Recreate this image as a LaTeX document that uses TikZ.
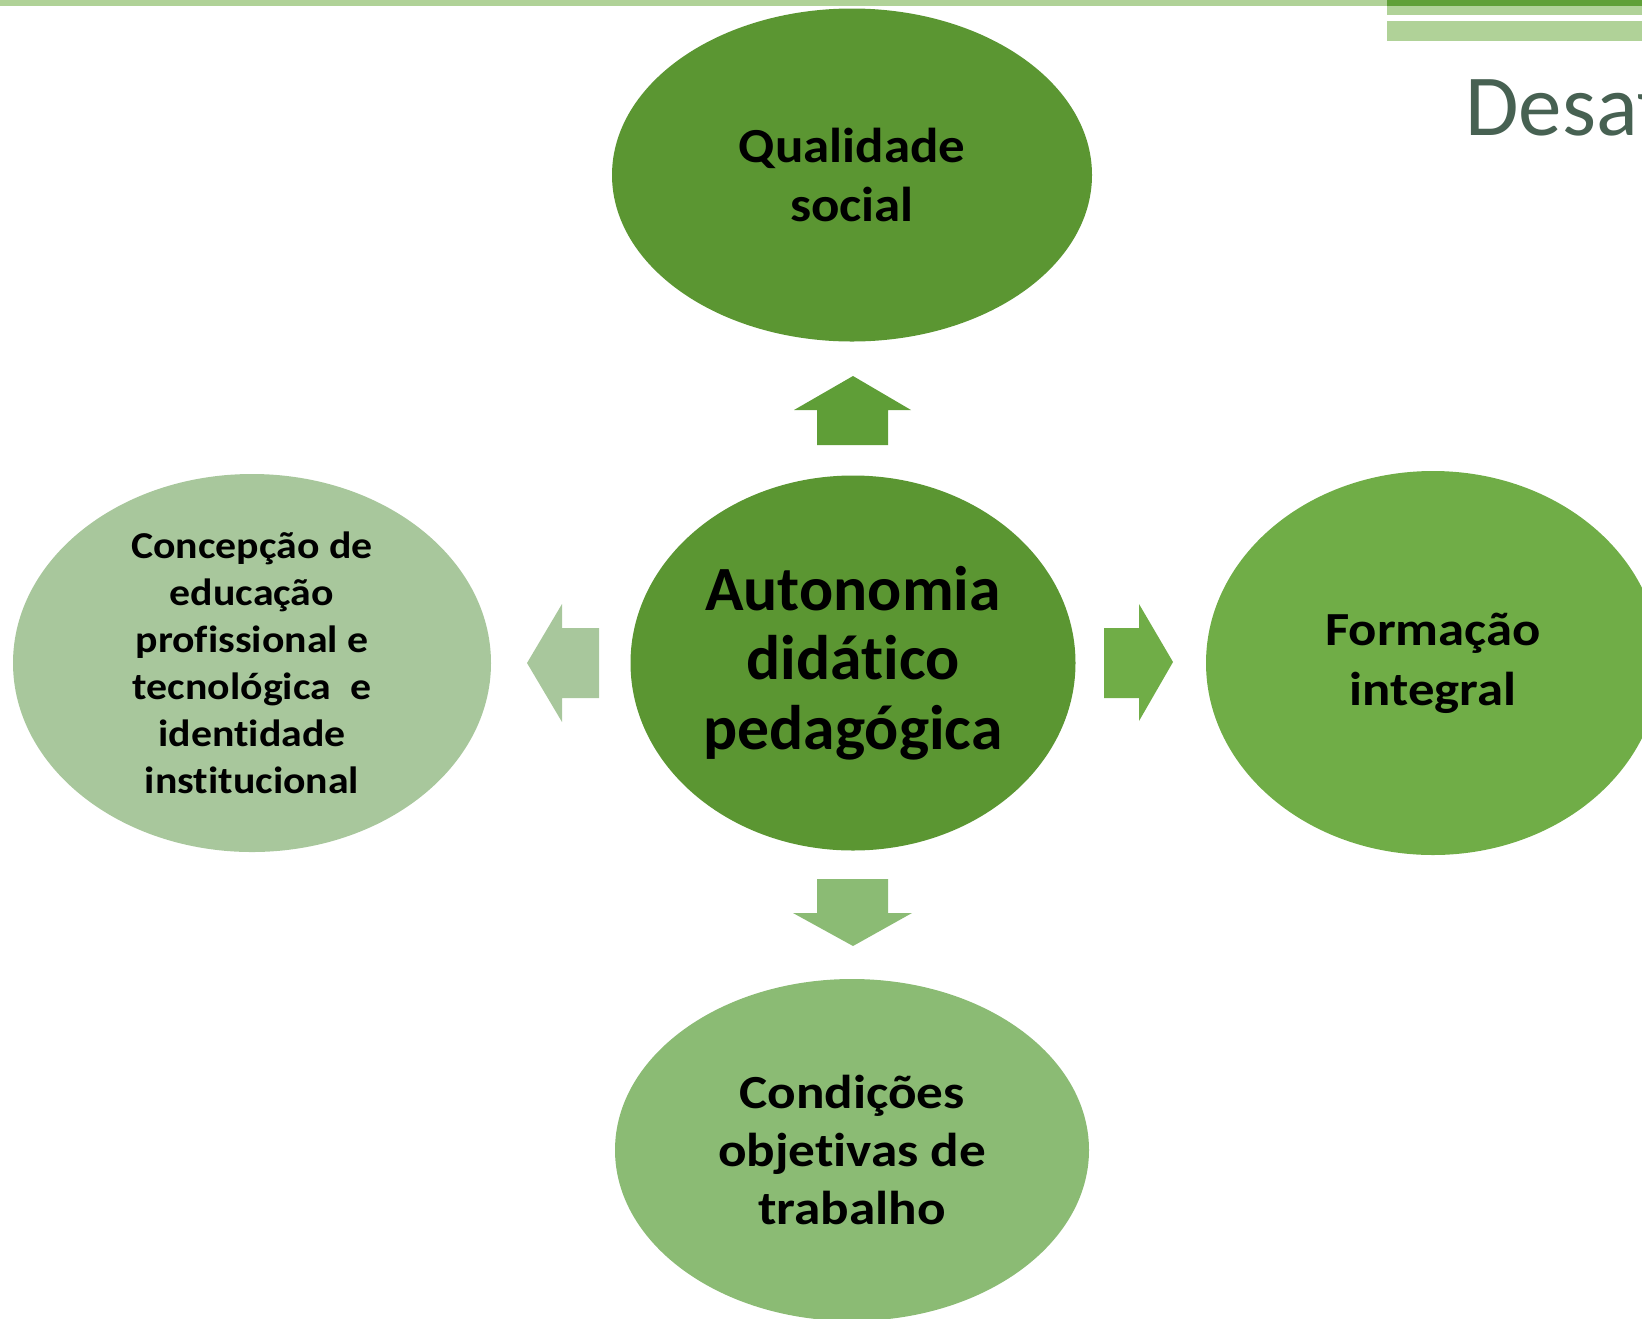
\documentclass[tikz,border=0pt]{standalone}
\usepackage{fontspec}
\setmainfont{Carlito}[Ligatures=NoCommon]
\usetikzlibrary{shapes.geometric}
\definecolor{gdark}{RGB}{91,150,50}
\definecolor{gup}{RGB}{95,158,55}
\definecolor{gmid}{RGB}{112,173,71}
\definecolor{glight}{RGB}{139,187,116}
\definecolor{gpale}{RGB}{168,199,156}
\definecolor{gbar}{RGB}{176,210,152}
\definecolor{gbardark}{RGB}{95,160,55}
\definecolor{titlec}{RGB}{71,97,82}
\begin{document}
\begin{tikzpicture}[x=0.5pt,y=-0.5pt,
  bubble/.style={ellipse, inner sep=0pt, draw=none},
  txt/.style={align=center, inner sep=0pt}]
\useasboundingbox (0,0) rectangle (1642,1318);
\clip (0,0) rectangle (1642,1318);
% top bars
\fill[gbar] (0,0) rectangle (1387,6);
\fill[gbardark] (1387,0) rectangle (1642,6);
\fill[gbar] (1387,6) rectangle (1642,15);
\fill[gbar] (1387,21) rectangle (1642,41);
\node[anchor=base west, inner sep=0pt, text=titlec, font=\fontsize{43.5}{50}\selectfont] (title) at (1465,135) {Desafios};
% ellipses
\node[bubble, fill=gdark, minimum width=240pt, minimum height=166.5pt] (top) at (852,175) {};
\node[bubble, fill=gdark, minimum width=222.5pt, minimum height=187.5pt] (center) at (853,663) {};
\node[bubble, fill=gpale, minimum width=239pt, minimum height=189pt] (left) at (252,663) {};
\node[bubble, fill=gmid, minimum width=227pt, minimum height=192pt] (right) at (1433,663) {};
\node[bubble, fill=glight, minimum width=237pt, minimum height=171pt] (bottom) at (852,1150) {};
% texts
\node[txt, font=\bfseries\fontsize{31.5}{34.75}\selectfont\addfontfeature{FakeStretch=1.01}] (tcenter) at (center) {Autonomia\\didático\\pedagógica};
\node[txt, font=\bfseries\fontsize{24.5}{29.5}\selectfont\addfontfeature{FakeStretch=1.08}] (ttop) at (top) {Qualidade\\social};
\node[txt, font=\bfseries\fontsize{19}{23.5}\selectfont\addfontfeature{FakeStretch=1.1}] (tleft) at (left) {Concepção de\\educação\\profissional e\\tecnológica\ \ e\\identidade\\institucional};
\node[txt, font=\bfseries\fontsize{23.75}{30}\selectfont\addfontfeature{FakeStretch=1.11}] (tright) at (right) {Formação\\integral};
\node[txt, font=\bfseries\fontsize{23.75}{29}\selectfont\addfontfeature{FakeStretch=1.12}] (tbottom) at (bottom) {Condições\\objetivas de\\trabalho};
% block arrows
\fill[gup] (817,445) -- (817,410) -- (794,410) -- (853,376) -- (911,410) -- (888,410) -- (888,445) -- cycle;
\fill[glight] (817,879) -- (888,879) -- (888,913) -- (912,913) -- (853,946) -- (793,913) -- (817,913) -- cycle;
\fill[gpale] (599,628) -- (562,628) -- (562,604) -- (527,663) -- (562,722) -- (562,698) -- (599,698) -- cycle;
\fill[gmid] (1104,628) -- (1139,628) -- (1139,604) -- (1173,662) -- (1139,721) -- (1139,698) -- (1104,698) -- cycle;
\end{tikzpicture}
\end{document}
